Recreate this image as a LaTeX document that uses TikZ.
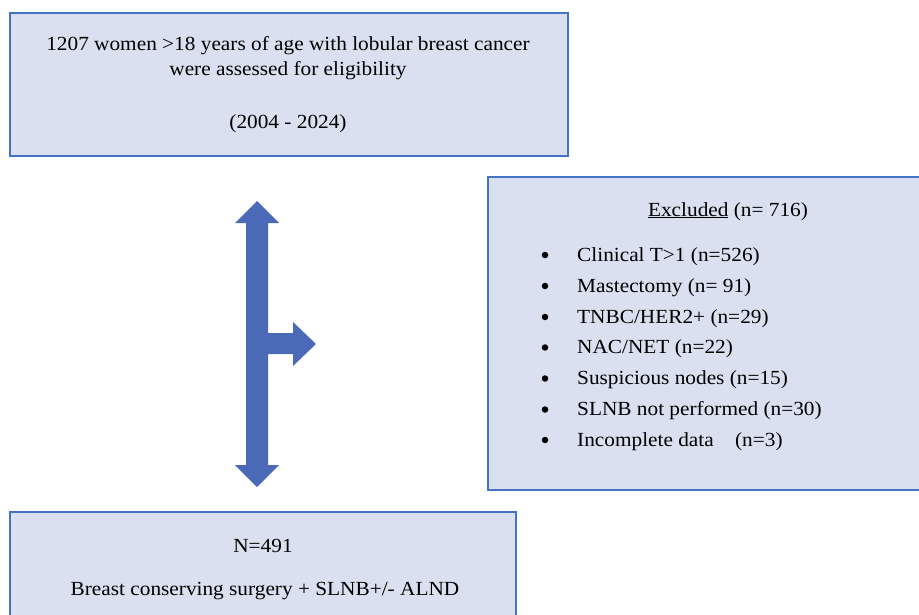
\documentclass[tikz,border=0pt]{standalone}
\usepackage{fontspec}
\setmainfont{Liberation Serif}[FakeStretch=1.065]
\definecolor{boxfill}{HTML}{DAE0F0}
\definecolor{boxline}{HTML}{4472C4}
\definecolor{arrowblue}{HTML}{4A6AB8}
\begin{document}
\begin{tikzpicture}[x=1pt,y=-1pt,
  txt/.style={font=\fontsize{20}{24}\selectfont, inner sep=0pt, anchor=base},
  itemtxt/.style={txt, anchor=base west},
  bullet/.style={circle, fill=black, inner sep=0pt, minimum size=6.5pt},
  flowbox/.style={draw=boxline, fill=boxfill, line width=1.6pt, minimum width=#1, inner sep=0pt}]
\useasboundingbox (0,0) rectangle (919,615);
\clip (0,0) rectangle (919,615);
% boxes
\node[flowbox=558pt, minimum height=143pt] (top) at (289,84.5) {};
\node[flowbox=460pt, minimum height=313pt] (excl) at (718,333.5) {};
\node[flowbox=506pt, minimum height=130pt] (bottom) at (263,577) {};
% top box text
\node[txt] (t1) at (288,51) {1207 women >18 years of age with lobular breast cancer};
\node[txt] (t2) at (288,76) {were assessed for eligibility};
\node[txt] (t3) at (288,129) {(2004 - 2024)};
% excluded box text
\node[txt] (eh) at (728,216) {\underline{Excluded} (n= 716)};
\foreach \y/\t [count=\i] in {261/{Clinical T>1 (n=526)}, 292/{Mastectomy (n= 91)}, 323/{TNBC/HER2+ (n=29)}, 353.5/{NAC/NET (n=22)}, 384.5/{Suspicious nodes (n=15)}, 415.5/{SLNB not performed (n=30)}, 446/{Incomplete data\ \ \ \ (n=3)}} {
  \node[bullet] (b\i) at (545,\y-6) {};
  \node[itemtxt] (e\i) at (577,\y) {\t};
}
% bottom box text
\node[txt] (n1) at (263,552) {N=491};
\node[txt] (n2) at (265,595) {Breast conserving surgery + SLNB+/- ALND};
% block arrow
\fill[arrowblue] (257,201) -- (279,223) -- (268,223) -- (268,333) -- (293,333) -- (293,322)
  -- (316,344) -- (293,366) -- (293,354) -- (268,354) -- (268,465) -- (279,465)
  -- (257,487) -- (235,465) -- (246,465) -- (246,223) -- (235,223) -- cycle;
\end{tikzpicture}
\end{document}
